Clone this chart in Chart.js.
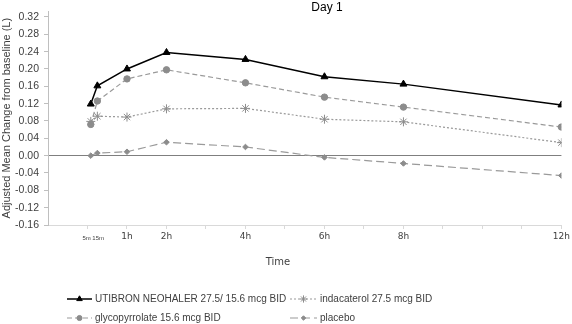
<!DOCTYPE html>
<html>
<head>
<meta charset="utf-8">
<script src="https://cdn.jsdelivr.net/npm/chart.js@4.4.0/dist/chart.umd.min.js"></script>
<style>
  html, body { margin: 0; padding: 0; background: #fff; }
  #wrap { width: 572px; height: 324px; }
</style>
</head>
<body>
<div id="wrap"><canvas id="day1Chart" width="572" height="324"></canvas></div>
<script>
// Day 1 time course, x in hours after dose
const timeHours = [0.0833, 0.25, 1, 2, 4, 6, 8, 12];

const utibron     = [0.119, 0.161, 0.200, 0.238, 0.222, 0.182, 0.165, 0.117];
const indacaterol = [0.079, 0.091, 0.089, 0.108, 0.109, 0.084, 0.078, 0.030];
const glyco       = [0.072, 0.126, 0.177, 0.198, 0.168, 0.135, 0.112, 0.066];
const placebo     = [0.000, 0.006, 0.009, 0.031, 0.020, -0.004, -0.018, -0.046];

const seriesNames = [
  "UTIBRON NEOHALER 27.5/ 15.6 mcg BID",
  "indacaterol 27.5 mcg BID",
  "glycopyrrolate 15.6 mcg BID",
  "placebo"
];

const yTicks = [-0.16, -0.12, -0.08, -0.04, 0, 0.04, 0.08, 0.12, 0.16, 0.20, 0.24, 0.28, 0.32];
const hourTicks = [0, 1, 2, 3, 4, 5, 6, 7, 8, 9, 10, 11, 12];
const hourLabels = ["", "1h", "2h", "", "4h", "", "6h", "", "8h", "", "", "", "12h"];
const minuteTicks = [0.0833, 0.25];
const minuteLabels = ["5m", "15m"];

const TEXT = "#404040";

function points(values) {
  return values.map((v, i) => ({ x: timeHours[i], y: v }));
}

// title, x title and the 5m / 15m labels (too close for normal tick labels)
const extraLabels = {
  id: "extraLabels",
  afterDraw(chart) {
    const { ctx } = chart;
    const x = chart.scales.x;
    ctx.save();
    ctx.textBaseline = "middle";

    ctx.fillStyle = "#000000";
    ctx.font = '12px "Liberation Sans"';
    ctx.textAlign = "center";
    ctx.fillText("Day 1", 327, 8);

    ctx.fillStyle = TEXT;
    ctx.font = '6px "Liberation Sans"';
    const ty = x.top + 13.5;
    ctx.textAlign = "right";
    ctx.fillText(minuteLabels[0], x.getPixelForValue(minuteTicks[0]), ty);
    ctx.textAlign = "left";
    ctx.fillText(minuteLabels[1], x.getPixelForValue(minuteTicks[1]) - 5, ty);

    ctx.font = '10px "DejaVu Sans"';
    ctx.textAlign = "center";
    ctx.fillText("Time", 278, 262);
    ctx.restore();
  }
};

// two-column legend under the plot
const gridLegend = {
  id: "gridLegend",
  afterDraw(chart) {
    const { ctx } = chart;
    const slots = [
      { x: 67, y: 299, len: 25 },
      { x: 290, y: 299, len: 27 },
      { x: 67, y: 318, len: 25 },
      { x: 290, y: 318, len: 27 }
    ];
    ctx.save();
    chart.data.datasets.forEach((ds, i) => {
      const s = slots[i];
      ctx.strokeStyle = ds.borderColor;
      ctx.lineWidth = ds.borderWidth;
      ctx.setLineDash(ds.borderDash || []);
      ctx.beginPath();
      ctx.moveTo(s.x, s.y);
      ctx.lineTo(s.x + s.len, s.y);
      ctx.stroke();

      ctx.setLineDash([]);
      ctx.fillStyle = ds.pointBackgroundColor;
      ctx.strokeStyle = ds.pointBorderColor;
      ctx.lineWidth = ds.pointBorderWidth;
      Chart.helpers.drawPoint(ctx, {
        pointStyle: ds.pointStyle,
        radius: ds.pointRadius * 0.8,
        rotation: 0,
        borderWidth: ds.pointBorderWidth
      }, s.x + s.len / 2, s.y);

      ctx.fillStyle = TEXT;
      ctx.font = '10px "Liberation Sans"';
      ctx.textAlign = "left";
      ctx.textBaseline = "middle";
      ctx.fillText(ds.label, s.x + s.len + 3, s.y);
    });
    ctx.restore();
  }
};

new Chart(document.getElementById("day1Chart"), {
  type: "line",
  data: {
    datasets: [
      {
        label: seriesNames[0],
        data: points(utibron),
        borderColor: "#000000",
        borderWidth: 1.5,
        pointStyle: "triangle",
        pointRadius: 4,
        pointBackgroundColor: "#000000",
        pointBorderColor: "#000000",
        pointBorderWidth: 1
      },
      {
        label: seriesNames[1],
        data: points(indacaterol),
        borderColor: "#9a9a9a",
        borderWidth: 1.2,
        borderDash: [2, 2],
        pointStyle: "star",
        pointRadius: 4.5,
        pointBackgroundColor: "#8c8c8c",
        pointBorderColor: "#8c8c8c",
        pointBorderWidth: 1
      },
      {
        label: seriesNames[2],
        data: points(glyco),
        borderColor: "#9a9a9a",
        borderWidth: 1.2,
        borderDash: [5, 3],
        pointStyle: "circle",
        pointRadius: 3.2,
        pointBackgroundColor: "#8c8c8c",
        pointBorderColor: "#8c8c8c",
        pointBorderWidth: 1
      },
      {
        label: seriesNames[3],
        data: points(placebo),
        borderColor: "#9a9a9a",
        borderWidth: 1.2,
        borderDash: [8, 4],
        pointStyle: "rectRot",
        pointRadius: 2.8,
        pointBackgroundColor: "#8c8c8c",
        pointBorderColor: "#8c8c8c",
        pointBorderWidth: 1
      }
    ]
  },
  options: {
    responsive: false,
    animation: false,
    events: [],
    layout: { padding: { top: 0, right: 8, bottom: 0, left: 0 } },
    plugins: {
      legend: { display: false },
      tooltip: { enabled: false },
      title: { display: false }
    },
    scales: {
      x: {
        type: "linear",
        min: -1,
        max: 12,
        afterFit(scale) { scale.height = 99; },
        afterBuildTicks(scale) { scale.ticks = hourTicks.map((v) => ({ value: v })); },
        ticks: {
          autoSkip: false,
          maxRotation: 0,
          padding: 2,
          color: TEXT,
          font: { family: "DejaVu Sans", size: 9 },
          callback: (v) => hourLabels[hourTicks.indexOf(v)] ?? ""
        },
        grid: { drawOnChartArea: false, drawTicks: true, tickLength: 4, color: "#d9d9d9" },
        border: { color: "#d9d9d9" }
      },
      y: {
        // axis runs a little past the last labelled tick
        min: -0.16,
        max: 0.333,
        afterFit(scale) { scale.width = 48; },
        afterBuildTicks(scale) { scale.ticks = yTicks.map((v) => ({ value: v })); },
        ticks: {
          padding: 5,
          color: TEXT,
          font: { family: "Liberation Sans", size: 10.5 },
          callback: (v) => Number(v).toFixed(2)
        },
        grid: {
          drawOnChartArea: true,
          tickLength: 4,
          color: (c) => (c.tick && Math.abs(c.tick.value) < 1e-9 ? "#7f7f7f" : "rgba(0,0,0,0)"),
          tickColor: "#bfbfbf"
        },
        border: { color: "#bfbfbf" },
        title: {
          display: true,
          text: "Adjusted Mean Change from baseline (L)",
          color: TEXT,
          font: { family: "Liberation Sans", size: 11 },
          padding: { top: 0, bottom: 0 }
        }
      }
    }
  },
  plugins: [extraLabels, gridLegend]
});
</script>
</body>
</html>
